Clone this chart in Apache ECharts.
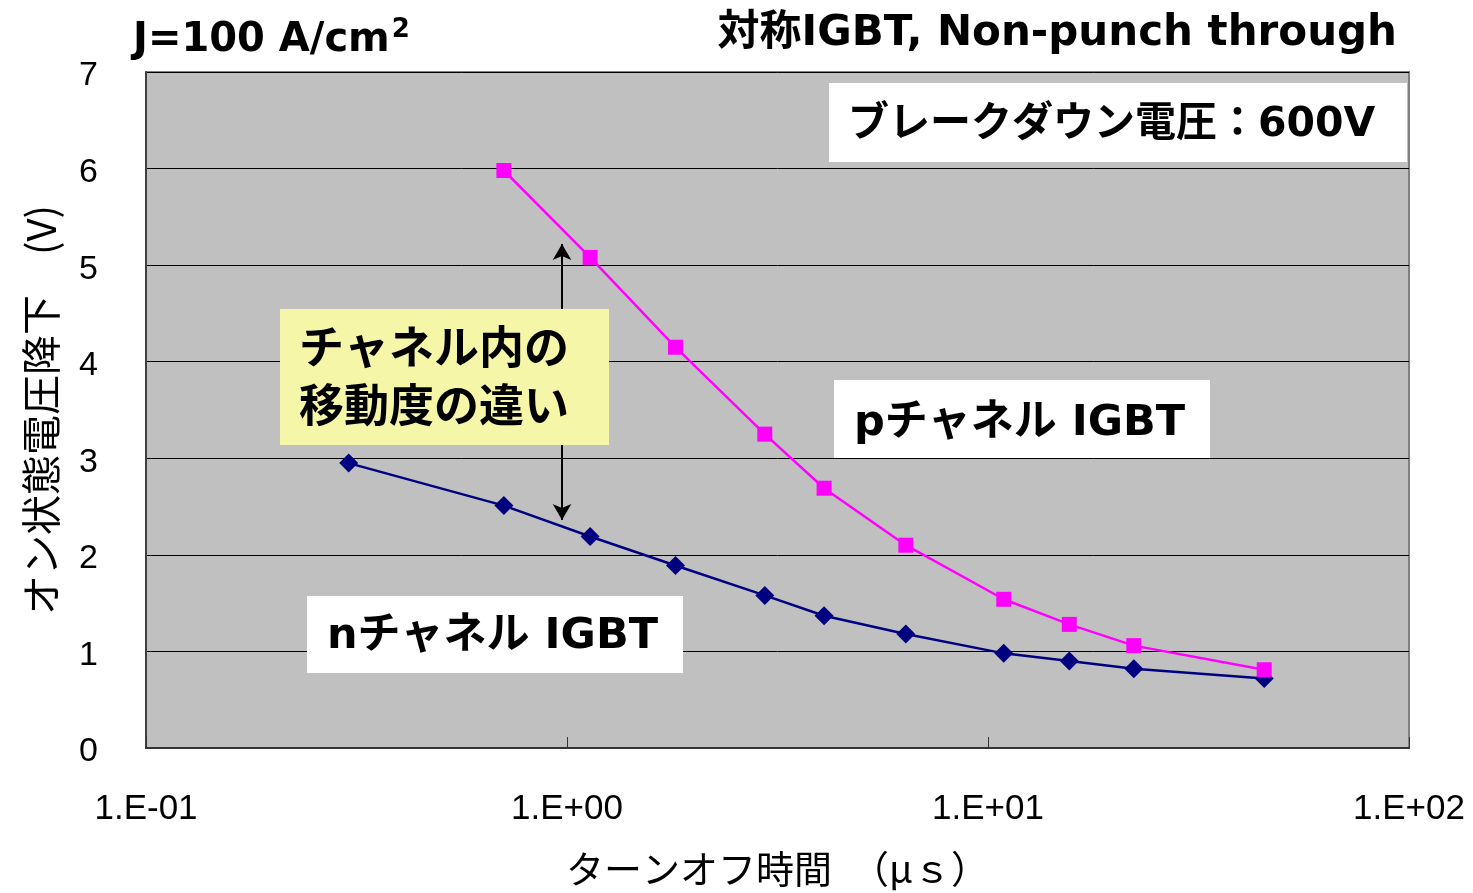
<!DOCTYPE html>
<html>
<head>
<meta charset="utf-8">
<title>IGBT turn-off time vs on-state voltage</title>
<script src="https://cdn.jsdelivr.net/npm/echarts@6/dist/echarts.min.js"></script>
<style>
  html, body { margin: 0; padding: 0; background: #ffffff; }
  #chart { width: 1473px; height: 893px; }
</style>
</head>
<body>
<div id="chart"></div>
<script>
// Turn-off time (µs) shared by both devices
const turnOffN = [0.303, 0.708, 1.135, 1.81, 2.95, 4.08, 6.38, 10.9, 15.6, 22.2, 45.3];
// On-state voltage drop (V), n-channel IGBT
const vonN = [2.95, 2.51, 2.19, 1.89, 1.58, 1.37, 1.18, 0.98, 0.90, 0.82, 0.72];
// p-channel IGBT samples
const turnOffP = [0.708, 1.135, 1.81, 2.95, 4.08, 6.38, 10.9, 15.6, 22.2, 45.3];
const vonP = [5.98, 5.08, 4.15, 3.25, 2.69, 2.10, 1.54, 1.28, 1.06, 0.81];
// Mobility-difference arrow: x position and the two voltage ends
const arrowX = 0.973;
const arrowEnds = [5.22, 2.36];

const xTickLabels = ['1.E-01', '1.E+00', '1.E+01', '1.E+02'];
const yTicks = [0, 1, 2, 3, 4, 5, 6, 7];

const LATIN = '"DejaVu Sans", "Noto Sans CJK JP", sans-serif';
const ARIAL = '"Liberation Sans", "DejaVu Sans", sans-serif';
const JP = '"Noto Sans CJK JP", "DejaVu Sans", sans-serif';
const JPB = '"DejaVu Sans", "Noto Sans CJK JP", sans-serif';

const chart = echarts.init(document.getElementById('chart'), null, { renderer: 'canvas' });

function pair(xs, ys) { return xs.map((x, i) => [x, ys[i]]); }

// A filled rectangle with one or more bold text lines; centres are given per line
function box(x, y, w, h, fill, lines, centers, fontSize, textX) {
  const children = [{
    type: 'rect',
    shape: { x: x, y: y, width: w, height: h },
    style: { fill: fill },
    z: 100
  }];
  lines.forEach((t, i) => {
    children.push({
      type: 'text',
      x: textX,
      y: centers[i],
      style: {
        text: t,
        font: 'bold ' + fontSize + 'px ' + JPB,
        fill: '#000000',
        textAlign: 'left',
        textVerticalAlign: 'middle'
      },
      z: 101
    });
  });
  return children;
}

const option = {
  animation: false,
  backgroundColor: '#ffffff',
  title: [{
    text: '{a|J=100 A/cm}{s|2}',
    left: 128,
    top: 12,
    textStyle: {
      rich: {
        a: { fontFamily: LATIN, fontWeight: 'bold', fontSize: 40, color: '#000', lineHeight: 48 },
        s: { fontFamily: LATIN, fontWeight: 'bold', fontSize: 26, color: '#000', verticalAlign: 'top', lineHeight: 48, padding: [0, 0, 14, 2] }
      }
    }
  }],
  grid: {
    left: 146, right: 64, top: 72, bottom: 145,
    show: true,
    backgroundColor: '#C0C0C0',
    borderColor: '#808080',
    borderWidth: 2
  },
  xAxis: {
    type: 'log',
    logBase: 10,
    min: 0.1,
    max: 100,
    name: 'ターンオフ時間　（μｓ）',
    nameLocation: 'middle',
    nameGap: 102,
    nameTextStyle: { fontFamily: JP, fontSize: 38, color: '#000' },
    axisLine: { show: true, lineStyle: { color: '#333333', width: 2 } },
    axisTick: { show: true, inside: true, length: 11, lineStyle: { color: '#333333', width: 1 } },
    minorTick: { show: false },
    splitLine: { show: false },
    axisLabel: {
      margin: 44,
      fontFamily: ARIAL,
      fontSize: 35,
      color: '#000',
      formatter: function (v) {
        const k = Math.round(Math.log10(v)) + 1;
        return xTickLabels[k] || '';
      }
    }
  },
  yAxis: {
    type: 'value',
    min: yTicks[0],
    max: yTicks[yTicks.length - 1],
    interval: 1,
    name: 'オン状態電圧降下　(V)',
    nameLocation: 'middle',
    nameGap: 85,
    nameTextStyle: { fontFamily: JP, fontSize: 40, color: '#000' },
    axisLine: { show: true, lineStyle: { color: '#404040', width: 2 } },
    axisTick: { show: false },
    splitLine: { show: true, lineStyle: { color: '#000000', width: 1 } },
    axisLabel: {
      margin: 48,
      formatter: function (v) { return '{v|' + v + '}'; },
      rich: {
        v: { fontFamily: ARIAL, fontSize: 34, color: '#000', padding: [8, 0, 0, 0] }
      }
    }
  },
  series: [
    {
      name: 'nチャネル IGBT',
      type: 'line',
      data: pair(turnOffN, vonN),
      symbol: 'diamond',
      symbolSize: 19,
      lineStyle: { color: '#000080', width: 2.5 },
      itemStyle: { color: '#000080' },
      z: 3,
      markLine: {
        silent: true,
        symbol: ['arrow', 'arrow'],
        symbolSize: [14, 16],
        label: { show: false },
        lineStyle: { color: '#000000', width: 2, type: 'solid' },
        data: [[{ coord: [arrowX, arrowEnds[0]] }, { coord: [arrowX, arrowEnds[1]] }]]
      }
    },
    {
      name: 'pチャネル IGBT',
      type: 'line',
      data: pair(turnOffP, vonP),
      symbol: 'rect',
      symbolSize: 15,
      lineStyle: { color: '#FF00FF', width: 2.5 },
      itemStyle: { color: '#FF00FF' },
      z: 4
    }
  ],
  graphic: [
    {
      type: 'text',
      right: 76,
      top: 13,
      style: {
        text: '対称IGBT, Non-punch through',
        font: 'bold 42px ' + JPB,
        fill: '#000'
      }
    },
    { type: 'group', children: box(829, 83, 578, 79, '#ffffff', ['ブレークダウン電圧：600V'], [125], 41, 848) },
    { type: 'group', children: box(280, 309, 329, 136, '#F6F6A8', ['チャネル内の', '移動度の違い'], [352, 410], 45, 299) },
    { type: 'group', children: box(834, 380, 376, 78, '#ffffff', ['pチャネル IGBT'], [424], 43, 854) },
    { type: 'group', children: box(307, 596, 376, 77, '#ffffff', ['nチャネル IGBT'], [637], 43, 327) }
  ]
};

chart.setOption(option);
</script>
</body>
</html>
